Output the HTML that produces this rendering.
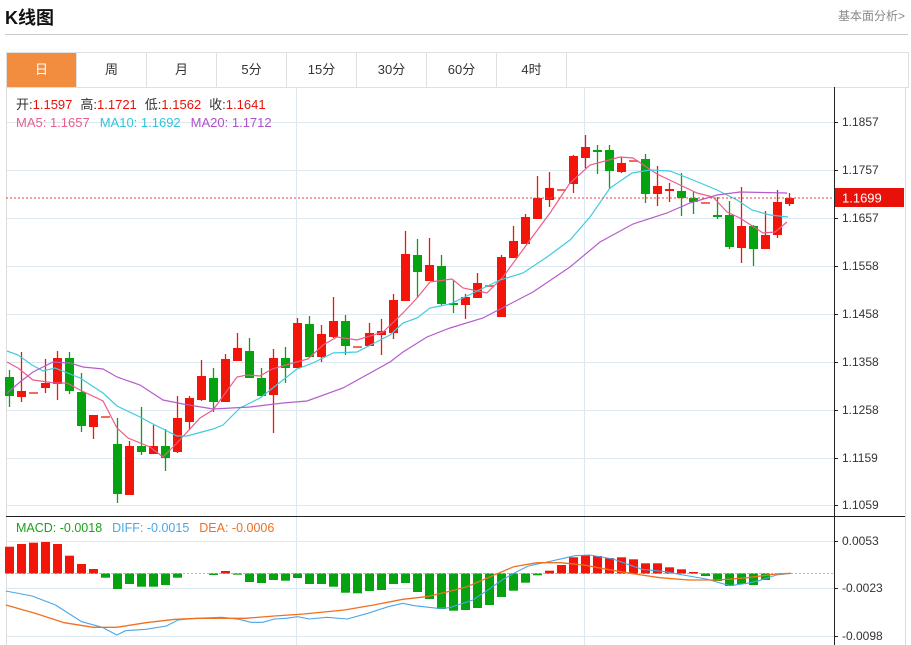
<!DOCTYPE html>
<html><head><meta charset="utf-8"><style>
html,body{margin:0;padding:0;background:#fff;width:911px;height:645px;overflow:hidden;font-family:"Liberation Sans","Noto Sans CJK SC",sans-serif;}
.title{position:absolute;left:5px;top:4px;font-size:18px;font-weight:bold;color:#111;}
.more{position:absolute;right:6px;top:7px;font-size:12px;color:#888;}
.hr{position:absolute;left:5px;top:34px;width:903px;height:1px;background:#ccc;}
.tabs{position:absolute;left:6px;top:52px;width:901px;height:34px;border:1px solid #e0e0e0;border-bottom:1px solid #e0e0e0;}
.tab{position:absolute;top:0;width:69px;height:34px;line-height:34px;text-align:center;font-size:13px;color:#333;border-right:1px solid #e0e0e0;}
.tab.on{background:#f28c3f;color:#fff;}
svg{position:absolute;left:0;top:0;}
</style></head><body>
<div class="title">K线图</div>
<div class="more">基本面分析&gt;</div>
<div class="hr"></div>
<div class="tabs">
<div class="tab on" style="left:0">日</div><div class="tab" style="left:70px">周</div><div class="tab" style="left:140px">月</div><div class="tab" style="left:210px">5分</div><div class="tab" style="left:280px">15分</div><div class="tab" style="left:350px">30分</div><div class="tab" style="left:420px">60分</div><div class="tab" style="left:490px">4时</div>
</div>
<svg id="s" width="911" height="645" style="top:0" xmlns="http://www.w3.org/2000/svg" font-family="Liberation Sans, Noto Sans CJK SC, sans-serif">
<line x1="6.5" y1="87" x2="6.5" y2="645" stroke="#ddd"/>
<line x1="905.5" y1="87" x2="905.5" y2="645" stroke="#ddd"/>
<g id="grid" stroke="#dde8f0" stroke-width="1"></g>
<g id="cand"></g>
<g id="ma" fill="none" stroke-width="1.2"></g>
<line x1="6" y1="198" x2="834" y2="198" stroke="#f04040" stroke-dasharray="2,2"/>
<rect x="834" y="188" width="70" height="19" fill="#e8110a"/>
<text x="842" y="202.5" font-size="13" fill="#fff">1.1699</text>
<line x1="834.5" y1="87" x2="834.5" y2="645" stroke="#222"/>
<line x1="6" y1="516.5" x2="905" y2="516.5" stroke="#222"/>
<g id="lab" font-size="12" fill="#333"></g>
<g id="macd"></g>
<text x="16" y="109" font-size="13"><tspan fill="#333">开:</tspan><tspan fill="#e8110a">1.1597</tspan><tspan fill="#333" dx="8">高:</tspan><tspan fill="#e8110a">1.1721</tspan><tspan fill="#333" dx="8">低:</tspan><tspan fill="#e8110a">1.1562</tspan><tspan fill="#333" dx="8">收:</tspan><tspan fill="#e8110a">1.1641</tspan></text>
<text x="16" y="127" font-size="13"><tspan fill="#ec5c8c">MA5: 1.1657</tspan><tspan fill="#2ec4dc" dx="10">MA10: 1.1692</tspan><tspan fill="#b050c8" dx="10">MA20: 1.1712</tspan></text>
<text x="16" y="532" font-size="12.5"><tspan fill="#1aa21a">MACD: -0.0018</tspan><tspan fill="#4aa6e8" dx="10">DIFF: -0.0015</tspan><tspan fill="#f07020" dx="10">DEA: -0.0006</tspan></text>
</svg>
<script>
var NS="http://www.w3.org/2000/svg";
function el(p,t,a){var e=document.createElementNS(NS,t);for(var k in a)e.setAttribute(k,a[k]);p.appendChild(e);return e;}
var g=document.getElementById('grid');
var hy=[122,170,218,266,314,362,410,458,505,541,588,636];
hy.forEach(function(y){el(g,'line',{x1:7,x2:834,y1:y+.5,y2:y+.5});});
[296,584].forEach(function(x){el(g,'line',{x1:x+.5,x2:x+.5,y1:87,y2:645});});
var lab=document.getElementById('lab');
var L=[[122,'1.1857'],[170,'1.1757'],[218,'1.1657'],[266,'1.1558'],[314,'1.1458'],[362,'1.1358'],[410,'1.1258'],[458,'1.1159'],[505,'1.1059'],[541,'0.0053'],[588,'-0.0023'],[636,'-0.0098']];
L.forEach(function(l){el(lab,'line',{x1:834,x2:838,y1:l[0]+.5,y2:l[0]+.5,stroke:'#222'});var t=el(lab,'text',{x:842,y:l[0]+4});t.textContent=l[1];});
var C=[[377,396,370,407],[397,391,352,402],[392,392,392,392],[388,383,359,393],[384,358,351,400],[358,391,352,394],[392,426,373,432],[427,415,415,439],[416,416,416,416],[444,494,418,503],[495,446,441,495],[446,452,407,455],[454,446,425,454],[446,458,429,471],[452,418,396,453],[422,398,396,430],[400,376,360,401],[378,402,368,412],[402,359,354,402],[361,348,333,361],[351,378,338,378],[378,396,368,397],[395,358,349,433],[358,368,347,383],[368,323,318,368],[324,357,316,357],[357,334,325,362],[337,321,297,338],[321,346,315,355],[346,346,346,346],[346,333,323,346],[335,331,319,355],[333,300,294,339],[301,254,231,301],[255,272,239,298],[281,265,238,281],[266,304,255,306],[303,304,280,313],[305,297,294,319],[298,283,273,298],[285,285,285,285],[317,257,255,317],[258,241,226,258],[244,217,214,244],[219,198,176,219],[200,188,172,207],[189,189,189,189],[184,156,155,193],[158,147,135,168],[150,151,145,174],[150,171,145,189],[172,163,157,173],[160,160,160,160],[159,194,154,203],[194,186,166,206],[189,189,183,202],[191,198,173,216],[198,202,192,214],[202,202,202,202],[215,216,197,219],[215,247,201,249],[248,226,187,263],[226,249,225,266],[249,235,211,249],[235,202,190,238],[204,198,193,206]];
var cg=document.getElementById('cand');
C.forEach(function(c,i){var x=9.5+12*i;var green=c[1]>c[0];var col=green?'#05a30f':'#f2160a';
 if(c[0]==c[1]&&c[2]==c[3]){col='#f26a60';}
 el(cg,'line',{x1:x,x2:x,y1:c[2],y2:c[3],stroke:col,'stroke-width':1.3});
 var t=Math.min(c[0],c[1]),h=Math.max(Math.abs(c[1]-c[0]),2);
 el(cg,'rect',{x:x-4.5,y:t,width:9,height:h,fill:col});});
var ma=document.getElementById('ma');
function pl(p,col,par,w){el(par||ma,'polyline',{points:p.map(function(a){return a.join(',')}).join(' '),stroke:col,fill:'none','stroke-width':w||1.2});}
pl([[7,362],[18,368],[33,380],[55,383],[67,383],[80,390],[103,401],[117,428],[128,438],[150,447],[163,457],[177,443],[200,418],[213,410],[237,377],[247,375],[260,376],[272,369],[293,363],[308,359],[323,345],[337,337],[357,340],[383,332],[403,313],[417,298],[430,282],[452,279],[463,288],[487,293],[503,277],[530,240],[550,213],[570,183],[590,165],[620,157],[633,158],[657,174],[680,185],[697,193],[713,197],[727,212],[740,218],[763,233],[775,232],[787,222]],'#ec5c8c');
pl([[7,351],[18,355],[32,365],[43,371],[55,368],[80,378],[103,393],[117,406],[140,417],[153,424],[177,436],[187,436],[213,429],[223,425],[240,408],[260,398],[297,369],[313,363],[333,353],[357,352],[390,335],[403,323],[417,318],[430,308],[450,304],[473,293],[500,280],[523,273],[547,257],[570,240],[590,217],[610,188],[632,173],[650,170],[670,171],[693,180],[717,190],[737,200],[752,210],[770,215],[788,217]],'#3fcbe0');
pl([[7,393],[20,382],[33,372],[53,362],[70,363],[83,367],[103,369],[117,377],[140,385],[163,400],[183,404],[213,409],[250,407],[283,403],[307,401],[343,388],[390,362],[403,352],[427,337],[450,328],[483,318],[533,292],[570,267],[600,242],[633,224],[667,213],[690,203],[717,195],[740,192],[787,193]],'#b55dcc');
var mg=document.getElementById('macd');
el(mg,'line',{x1:7,x2:791,y1:573.5,y2:573.5,stroke:'#f0a0a0','stroke-dasharray':'2,2'});
el(mg,'line',{x1:791,x2:834,y1:573.5,y2:573.5,stroke:'#7ccde8','stroke-dasharray':'2,2'});
var B=[546.7,544,542.7,542,544,555.7,564,569,577.7,589,584,586.7,586.7,585,577.7,574,573.5,575,571,574.7,582,583,580,580.7,578,584,584,586.7,592.7,593.3,591,590,584,583,592,599,609,610.7,610,608,605,597,590.7,582.7,575.3,570.7,565,557.3,555,556,558,557.3,559.3,563.3,563.3,567.3,569.3,572,576,581,586,584,585,580,574,573.5];
B.forEach(function(b,i){var x=9.5+12*i;var z=573.5;if(Math.abs(b-z)<0.6)return;var col=b<z?'#f2160a':'#05a30f';el(mg,'rect',{x:x-4.5,y:Math.min(b,z),width:9,height:Math.abs(b-z),fill:col});});
function cv(a){return a.map(function(p){return [ (p[0]/1.713).toFixed(1), (510+p[1]/3).toFixed(1)];});}
pl(cv([[10,243],[55,258],[95,285],[140,335],[175,352],[200,375],[215,362],[250,358],[285,348],[305,330],[335,325],[380,322],[410,328],[430,337],[450,337],[470,327],[490,325],[510,320],[530,327],[560,322],[595,327],[630,310],[665,290],[690,280],[710,287],[750,295],[770,293],[810,270],[840,235],[860,210],[880,190],[905,168],[940,155],[985,137],[1010,135],[1050,147],[1075,163],[1100,178],[1140,185],[1170,195],[1210,207],[1250,227],[1280,220],[1300,212],[1330,195],[1355,190]]),'#4aa6e8',mg,1.1);
pl(cv([[10,285],[60,310],[110,338],[160,352],[200,352],[250,338],[300,328],[340,325],[420,325],[470,318],[520,312],[590,300],[640,285],[690,268],[730,260],[760,248],[800,230],[840,200],[880,170],[920,158],[960,158],[1000,165],[1040,178],[1080,190],[1130,203],[1180,210],[1230,210],[1280,203],[1330,192],[1355,190]]),'#f07020',mg,1.3);
</script>
</body></html>
